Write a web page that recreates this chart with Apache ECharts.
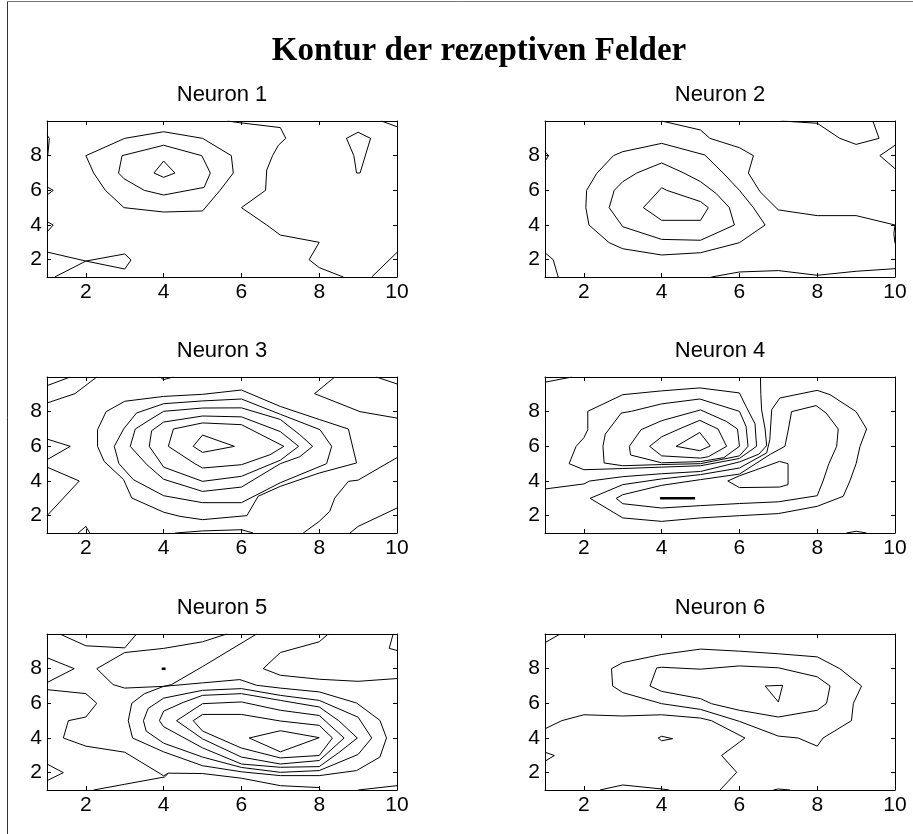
<!DOCTYPE html>
<html>
<head>
<meta charset="utf-8">
<title>Kontur der rezeptiven Felder</title>
<script src="https://cdn.jsdelivr.net/npm/echarts@6/dist/echarts.min.js"></script>
<style>
  html, body { margin: 0; padding: 0; background: #fff; }
  #chart { width: 913px; height: 834px; }
</style>
</head>
<body>
<div id="chart"></div>
<script>
// figure texts and ticks
var figureTitle = 'Kontur der rezeptiven Felder';
var panelNames = ['Neuron 1', 'Neuron 2', 'Neuron 3', 'Neuron 4', 'Neuron 5', 'Neuron 6'];
var xTicks = [2, 4, 6, 8, 10];
var yTicks = [2, 4, 6, 8];
var axisRange = [1, 10];

// contour lines per neuron, as [x, y] points
var neuron1 = [
  [[2,8],[3,9],[4,9.38],[5,9],[5.74,8],[5.79,7],[5.45,6],[5,4.81],[4,4.75],[2.98,5],[2.5,6],[2.2,7],[2,8]],
  [[2.93,8],[4,8.6],[4.98,8],[5.2,7],[5.04,6.17],[4,5.73],[3.5,6],[2.98,6.67],[2.84,7],[2.93,8]],
  [[4,7.69],[4.29,7],[4,6.75],[3.75,7],[4,7.69]],
  [[5.64,10],[5.96,9.9],[7,9.62],[7.14,9],[6.95,8.6],[6.8,8],[6.65,7.17],[6.62,6],[6,5],[6.65,4],[7,3.42],[8,3],[7.74,2],[8,1.54],[8.62,1]],
  [[9.6,10],[10,9.67]],
  [[9.35,1],[10,2.42]],
  [[8.7,9],[9,9.35],[9.32,9],[9.05,7],[8.96,7],[8.89,8],[8.7,9]],
  [[1,9.2],[1.06,9],[1.02,8]],
  [[1,6.2],[1.16,6],[1,5.73]],
  [[1,4.2],[1.16,4],[1,3.6]],
  [[1,2.44],[2,1.92],[3,2.33],[3.16,1.98],[3,1.46],[2,1.92],[1.2,1]]
];
var neuron2 = [
  [[3.53,5],[4,6.15],[4.13,6],[5,5.35],[5.2,5],[5,4.27],[4,4.27],[3.53,5]],
  [[4,7.58],[4.57,7],[5,6.5],[5.41,5.8],[5.74,5],[5.87,4],[5,3.12],[4,3.17],[3,3.9],[2.65,5],[2.78,6],[3,6.5],[3.36,7],[4,7.58]],
  [[2.76,8],[3,8.23],[4,8.71],[5.11,8.04],[5.58,7],[6,6],[6.36,5],[6.66,4],[6,2.98],[5,2.4],[4,2.27],[3,2.63],[2.65,2.98],[2.13,4],[2.05,5],[2.07,6],[2.33,6.98],[2.76,8]],
  [[4,10],[5,9.48],[5.24,9],[6,8.46],[6.36,8],[6.23,7],[6.53,5.92],[7,4.87],[8,4.54],[9,4.54],[10,4]],
  [[7.08,10],[8,9.87],[8.58,9],[9,8.65],[9.59,9],[9.43,10]],
  [[10,8.6],[9.61,8],[10,7.25]],
  [[10,4],[9.97,3.5],[10,2.94]],
  [[5.28,1],[6,1.29],[7,1.37],[8,1.1],[9,1.33],[10,1.48]],
  [[1,2.4],[1.21,2],[1.34,1]],
  [[1,8.23],[1.09,8],[1,7.67]]
];
var neuron3 = [
  [[4.76,6],[5,6.65],[5.82,6],[5,5.65],[4.76,6]],
  [[4.12,6],[4.25,7],[5,7.35],[6,7.25],[6.22,7],[7.09,6],[6.74,5.52],[6,4.94],[5,4.75],[4.8,5],[4.12,6]],
  [[3.63,6],[3.69,6.9],[4,7.4],[5,7.75],[6,7.7],[7,6.85],[7.47,6],[7,5.2],[6,4.27],[5,3.98],[4,4.8],[3.63,6]],
  [[3.14,6],[3.27,7],[3.65,7.54],[4,8.02],[5,8.21],[6,8.22],[7,7.55],[7.5,6.67],[7.83,6],[7.5,5.4],[7,5],[6,3.65],[5,3.4],[4,4.1],[3.57,4.94],[3.14,6]],
  [[2.73,6],[2.97,7],[3.3,7.92],[4,8.46],[5,8.62],[6,8.73],[7,7.85],[8.02,6.96],[8.32,6],[8.19,5],[7,3.9],[6,2.75],[5,2.75],[4,3.15],[3.22,4.08],[2.85,5],[2.73,6]],
  [[2.3,6],[2.3,6.96],[2.52,8],[3,8.6],[4,8.88],[5,9],[6,9.25],[7,8.3],[8,7.55],[8.75,7],[8.96,5.04],[8,4.46],[7,3.69],[6.43,3.12],[6.14,2],[5,1.77],[4.42,1.96],[4,2.2],[3.18,3.02],[2.97,4.08],[2.47,5.13],[2.3,6]],
  [[1,9.5],[1.6,10]],
  [[1,8.5],[1.72,9.04],[2.28,10]],
  [[3.9,10],[4,9.85],[4.25,10]],
  [[1,6.42],[1.6,6],[1,5.23]],
  [[1,4.8],[1.83,4],[1,2]],
  [[1.8,1],[2,1.38],[2.1,1]],
  [[4.3,1],[5,1.12],[6,1.19],[6.3,1]],
  [[8.4,10],[7.88,9.04],[9.05,8],[10,7.63]],
  [[9.47,10],[10,9.6]],
  [[10,5.35],[9,4.05],[8.75,3.98],[8.4,3.02],[8.27,2.25],[8,1.67],[7.59,1]],
  [[10,2.44],[9,1.38],[8.79,1]]
];
var neuron4 = [
  [[4.37,6],[4.98,6.8],[5.25,6.02],[4.98,5.75],[4.37,6]],
  [[3.69,6],[4,6.55],[4.5,7.05],[4.98,7.5],[5.45,7],[5.67,6],[5.2,5.4],[5,5.32],[4,5.45],[3.69,6]],
  [[3.17,6],[3.47,6.96],[4,7.48],[5,8.1],[5.66,7.44],[5.95,7],[6,6],[5.6,5.35],[5,5.12],[4,5.05],[3.2,5.5],[3.17,6]],
  [[2.49,6],[2.55,6.7],[2.96,7.92],[3.22,8.02],[4,8.45],[4.98,8.73],[6,8.02],[6.17,7.15],[6.22,6],[6,5.45],[5,5],[4,4.95],[3,4.88],[2.52,5.04],[2.49,6]],
  [[1.62,5],[1.8,6],[2,6.5],[2.1,6.96],[2.1,8.02],[3,8.98],[4,9.2],[4.98,9.37],[6,9.08],[6.17,8.3],[6.4,7.3],[6.44,6],[6,5.3],[5,4.88],[4,4.8],[3,4.72],[2,4.65],[1.62,5]],
  [[6.54,10],[6.55,9],[6.57,8.1],[6.66,7],[6.7,6.04],[6.5,5.55],[6,5.1],[5,4.55],[4,4.42],[3,4.25],[2.15,4],[2,3.83],[1,3.54]],
  [[6.83,8.12],[7.04,8.79],[8,9.23],[8.33,8.98],[9,8],[9.27,7],[9.1,6],[9,5],[8.84,4],[8.67,3.12],[8,2.54],[7,2.12],[6,2],[5,1.87],[4,1.67],[3,1.87],[2.16,3],[3,3.79],[4,4.12],[5,4.37],[6,4.75],[6.7,5.62],[6.78,6.38],[6.83,8.12]],
  [[7.34,8],[7.97,8.35],[8.23,7.92],[8.54,7],[8.5,6],[8.3,5],[8.15,4],[8,3.15],[7,2.8],[6,2.7],[5,2.58],[4,2.44],[3,2.69],[2.83,3],[3,3.21],[4,3.75],[5,4.08],[6,4.4],[6.8,5.55],[7.17,6],[7.26,7],[7.34,8]],
  [[5.7,4],[6,3.62],[7.03,3.65],[7.25,3.79],[7.25,5],[7.03,5.13],[6,4.3],[5.7,4]],
  [[1,9.7],[1.69,10]],
  [[8.75,1],[9,1.1],[9.27,1]]
];
var neuron5 = [
  [[6.2,4],[7,4.42],[8,4.02],[7,3.2],[6.2,4]],
  [[4.76,5],[5,5.36],[6,5.36],[7,4.98],[8,4.73],[8.34,4],[8,2.99],[7,2.85],[6,3.42],[5,4.4],[4.76,5]],
  [[4.33,5],[5,5.98],[6,6.08],[7,5.6],[8,5.3],[8.64,4],[8,2.7],[7,2.5],[6,2.9],[5,3.95],[4.33,5]],
  [[3.89,5],[4,5.55],[4.5,6.05],[5,6.46],[6,6.56],[7,6.17],[8,5.79],[8.5,5],[8.98,4],[8.5,3.15],[8,2.35],[7,2.31],[6,2.5],[5,3.43],[4,4.65],[3.89,5]],
  [[3.48,5],[3.6,5.7],[4,6.3],[5,6.75],[6,6.85],[7,6.46],[8,6.17],[9,5.2],[9.35,4],[9,3.05],[8,2.12],[7,2.02],[6,2.3],[5,2.9],[4,3.7],[3.55,4.4],[3.48,5]],
  [[3.09,5],[3.18,6],[3.5,6.55],[4,6.98],[5,7.18],[5.96,7.37],[6.39,7.04],[7,6.88],[8,6.66],[8.96,6.02],[9.56,5.02],[9.73,4],[9.56,2.9],[8.96,2.12],[8,1.83],[7,1.83],[6,2.05],[5,2.4],[4,3.2],[3.2,4],[3.09,5]],
  [[5.62,10],[5,9.55],[4,9.17],[3,8.93],[2.28,8],[2.7,7.08],[3,6.88],[4,6.98],[4.2,7.08],[5,8.12],[6.39,10]],
  [[1,6.79],[2,6.56],[2.28,6],[2,5.21],[1.55,5],[1.42,4],[2,3.53],[3,3.18],[4,1.82],[4.12,1.97],[4.02,1.75],[3,1.33],[2.2,1]],
  [[4.12,1.97],[5,1.95],[6,1.68],[7,1.25],[8,1.14],[8.02,1]],
  [[1,8.63],[1.7,8],[1,7.2]],
  [[1.33,10],[2,9.32],[3,9.2],[3.3,10]],
  [[1,2.5],[1.42,2],[1,1.54]],
  [[8.23,10],[8,9.55],[7,8.93],[6.56,8],[7,7.62],[8,7.39],[9,7.27],[10,7.43]],
  [[9.9,10],[9.8,9.17],[10,9.05]],
  [[9,1],[10,1.25]]
];
var neuron6 = [
  [[6.66,7],[7.11,7.04],[7,6.08],[6.66,7]],
  [[3.7,7],[3.87,8.04],[4,8.08],[5,7.97],[6,8.16],[7,8.05],[8,7.53],[8.33,7],[8.24,6],[8,5.6],[7,5.21],[6,5.6],[5.28,5.98],[5,6.27],[4,6.69],[3.7,7]],
  [[2.71,8],[3,8.35],[4,8.82],[5,9.13],[6,9.01],[7,8.86],[8,8.68],[8.58,8],[9.14,7],[8.93,6],[8.88,5],[8.15,4],[8,3.53],[7.51,4],[7,4.11],[6,4.96],[5,5.65],[4,5.98],[3,6.62],[2.74,7],[2.71,8]],
  [[1,4.53],[1.43,5],[2,5.34],[3,5.27],[4,5.34],[5,5.15],[5.28,5],[6.14,4],[6,3.76],[5.54,2.99],[5.93,2.02],[5.5,1]],
  [[3.91,4],[4,4.1],[4.28,3.96],[4,3.84],[3.91,4]],
  [[1,3.18],[1.24,2.99],[1,2.66]],
  [[2.41,1],[3,1.29],[4,1.06],[4.2,1]],
  [[6.87,1],[7,1.06],[7.3,1]],
  [[1,9.5],[1.39,10]]
];
// degenerate (flat) contours that show up as short heavy strokes
var flatNeuron4 = [[[3.96,3],[4.86,3]]];
var flatNeuron5 = [[[3.95,8],[4.05,8]]];

var contourSets = [neuron1, neuron2, neuron3, neuron4, neuron5, neuron6];
var flatSets = [[], [], [], flatNeuron4, flatNeuron5, []];

var chart = echarts.init(document.getElementById('chart'), null, { renderer: 'canvas' });

var colLeft = [47, 545];
var rowTop = [121, 377, 634];
var plotW = 350, plotH = 156;
var labelFont = { color: '#000', fontSize: 21, fontFamily: 'Liberation Sans, Arial, sans-serif' };

var grids = [], xAxes = [], yAxes = [], series = [], titles = [];

titles.push({
  text: figureTitle,
  left: 479, top: 35, textAlign: 'center', padding: 0,
  textStyle: { fontFamily: 'Liberation Serif, Times New Roman, serif', fontWeight: 'bold', fontSize: 33, color: '#000', lineHeight: 33 }
});

for (var i = 0; i < 6; i++) {
  var gx = colLeft[i % 2], gy = rowTop[Math.floor(i / 2)];
  grids.push({ left: gx, top: gy, width: plotW, height: plotH, containLabel: false });
  titles.push({
    text: panelNames[i],
    left: gx + plotW / 2, top: gy - 37, textAlign: 'center', padding: 0,
    textStyle: { fontFamily: labelFont.fontFamily, fontWeight: 'normal', fontSize: 22, color: '#000', lineHeight: 22 }
  });
  [false, true].forEach(function (other) {
    xAxes.push({
      type: 'value', gridIndex: i, min: axisRange[0], max: axisRange[1],
      position: other ? 'top' : 'bottom',
      axisLine: { show: true, onZero: false, lineStyle: { color: '#000', width: 1 } },
      axisTick: { show: true, inside: true, length: 4, customValues: xTicks, lineStyle: { color: '#000' } },
      axisLabel: Object.assign({ show: !other, customValues: xTicks, margin: 5 }, labelFont),
      splitLine: { show: false }
    });
    yAxes.push({
      type: 'value', gridIndex: i, min: axisRange[0], max: axisRange[1],
      position: other ? 'right' : 'left',
      axisLine: { show: true, onZero: false, lineStyle: { color: '#000', width: 1 } },
      axisTick: { show: true, inside: true, length: 4, customValues: yTicks, lineStyle: { color: '#000' } },
      axisLabel: Object.assign({ show: !other, customValues: yTicks, margin: 5 }, labelFont),
      splitLine: { show: false }
    });
  });
  contourSets[i].forEach(function (line) {
    series.push({
      type: 'line', xAxisIndex: 2 * i, yAxisIndex: 2 * i, data: line,
      symbol: 'none', silent: true, clip: true,
      lineStyle: { color: '#000', width: 1 }
    });
  });
  flatSets[i].forEach(function (line) {
    series.push({
      type: 'line', xAxisIndex: 2 * i, yAxisIndex: 2 * i, data: line,
      symbol: 'none', silent: true, clip: true,
      lineStyle: { color: '#000', width: 2.5 }
    });
  });
}

chart.setOption({
  backgroundColor: '#fff',
  animation: false,
  title: titles,
  grid: grids,
  xAxis: xAxes,
  yAxis: yAxes,
  series: series,
  // figure frame (left and top edges as in the screenshot)
  graphic: [
    { type: 'line', shape: { x1: 7.5, y1: 1.5, x2: 7.5, y2: 834 }, style: { stroke: '#333', lineWidth: 1 } },
    { type: 'line', shape: { x1: 7.5, y1: 1.5, x2: 913, y2: 1.5 }, style: { stroke: '#777', lineWidth: 1 } }
  ]
});
</script>
</body>
</html>
